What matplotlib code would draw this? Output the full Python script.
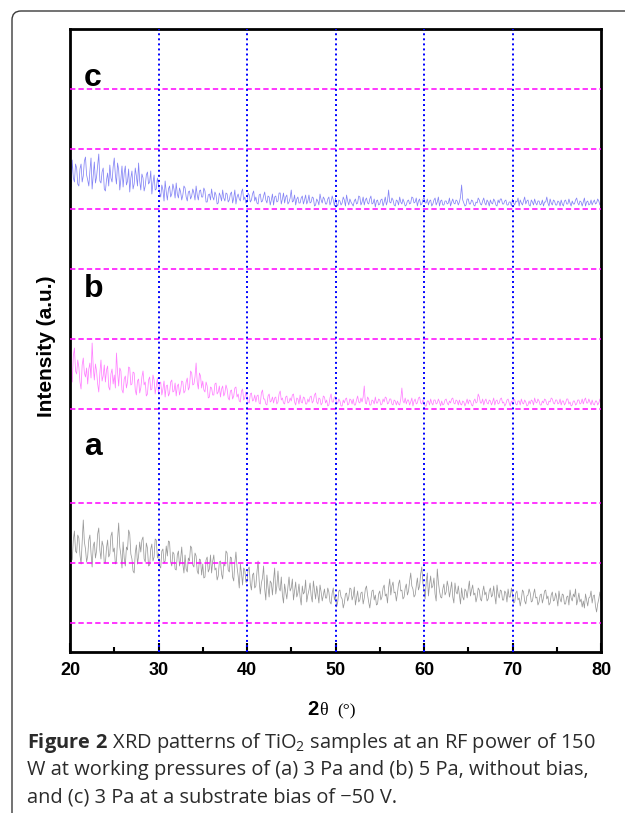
import numpy as np
import matplotlib
matplotlib.use("Agg")
import matplotlib.pyplot as plt
from matplotlib.patches import FancyBboxPatch
from matplotlib.transforms import IdentityTransform

plt.rcParams['mathtext.fontset'] = 'custom'
plt.rcParams['mathtext.rm'] = 'Open Sans'
plt.rcParams['mathtext.bf'] = 'Open Sans:bold'

# datos (intensidad en unidades arbitrarias, paso 0.125 grados)
two_theta_range = (20, 80)
x_ticks = [20, 30, 40, 50, 60, 70, 80]
grid_x = [30, 40, 50, 60, 70]
base_lines = [29, 89, 149, 243, 313, 383, 443, 503, 563]

int_c = [
    478, 465, 492, 474, 470, 488, 484, 468, 466, 483, 488, 470, 476, 491, 495, 477,
    472, 466, 481, 494, 463, 477, 490, 469, 475, 487, 498, 471, 469, 480, 484, 463,
    461, 472, 479, 466, 487, 474, 470, 485, 494, 477, 468, 489, 482, 462, 473, 486,
    465, 479, 486, 467, 471, 483, 460, 474, 481, 463, 468, 484, 476, 466, 489, 471,
    462, 478, 474, 461, 466, 477, 480, 468, 470, 481, 458, 469, 477, 462, 463, 474,
    468, 459, 455, 467, 462, 451, 471, 460, 452, 463, 466, 455, 458, 468, 463, 454,
    469, 458, 454, 464, 460, 452, 457, 466, 464, 455, 451, 460, 461, 453, 456, 463,
    459, 452, 466, 457, 452, 461, 462, 455, 455, 464, 461, 450, 450, 457, 458, 452,
    463, 455, 452, 460, 457, 448, 449, 459, 456, 451, 462, 454, 451, 459, 458, 450,
    452, 458, 460, 449, 454, 462, 448, 455, 458, 453, 451, 460, 463, 452, 455, 449,
    450, 459, 457, 450, 452, 458, 461, 451, 455, 449, 448, 457, 458, 450, 451, 456,
    460, 452, 449, 456, 455, 447, 452, 458, 447, 455, 456, 450, 451, 459, 459, 448,
    453, 459, 449, 455, 457, 448, 450, 454, 462, 450, 451, 457, 447, 453, 455, 449,
    449, 454, 456, 448, 452, 457, 448, 451, 457, 449, 450, 455, 454, 446, 447, 453,
    451, 447, 458, 452, 449, 455, 453, 448, 448, 453, 455, 447, 450, 456, 452, 446,
    454, 448, 446, 452, 451, 447, 449, 455, 452, 446, 457, 451, 447, 453, 450, 448,
    446, 451, 453, 448, 449, 456, 455, 447, 450, 455, 447, 452, 454, 449, 448, 453,
    456, 448, 449, 453, 445, 451, 452, 447, 448, 452, 453, 446, 450, 455, 447, 451,
    462, 450, 449, 454, 452, 447, 446, 452, 451, 447, 455, 450, 448, 453, 450, 446,
    447, 451, 452, 448, 449, 455, 454, 449, 450, 454, 446, 451, 453, 447, 448, 452,
    455, 449, 449, 453, 447, 451, 452, 446, 448, 452, 454, 447, 450, 455, 446, 451,
    452, 447, 447, 451, 451, 448, 449, 454, 446, 450, 453, 449, 448, 452, 451, 447,
    450, 455, 467, 452, 449, 446, 447, 453, 453, 448, 448, 452, 451, 447, 446, 450,
    449, 454, 452, 448, 447, 451, 454, 449, 447, 452, 450, 446, 452, 449, 448, 453,
    451, 447, 446, 452, 449, 453, 453, 448, 448, 451, 452, 447, 447, 450, 450, 446,
    453, 449, 447, 451, 450, 454, 446, 452, 449, 447, 451, 455, 448, 451, 452, 447,
    446, 452, 450, 447, 453, 449, 447, 451, 451, 447, 448, 452, 446, 450, 450, 455,
    449, 446, 453, 449, 447, 452, 451, 447, 447, 451, 450, 446, 452, 448, 446, 451,
    452, 448, 448, 453, 449, 446, 451, 448, 448, 452, 454, 449, 447, 451, 450, 446,
    450, 454, 446, 450, 451, 447, 448, 452, 447, 450, 452, 448, 449, 453, 451, 447,
    449]

int_b = [
    290, 276, 270, 296, 304, 281, 278, 292, 285, 270, 263, 287, 294, 279, 275, 284,
    268, 283, 289, 274, 309, 285, 272, 288, 281, 268, 260, 279, 292, 271, 276, 287,
    270, 282, 286, 265, 262, 278, 283, 268, 277, 264, 299, 280, 266, 284, 281, 262,
    259, 273, 276, 264, 270, 285, 284, 267, 268, 280, 279, 262, 257, 271, 273, 259,
    264, 275, 281, 267, 270, 256, 258, 272, 275, 262, 263, 277, 272, 258, 266, 274,
    258, 268, 270, 257, 263, 271, 255, 266, 267, 256, 259, 270, 272, 260, 261, 269,
    256, 266, 268, 257, 262, 271, 270, 259, 261, 270, 274, 262, 265, 281, 279, 267,
    268, 275, 289, 270, 263, 279, 276, 264, 271, 262, 260, 270, 266, 254, 255, 265,
    264, 257, 257, 268, 269, 258, 260, 266, 255, 263, 266, 256, 259, 267, 263, 254,
    252, 261, 262, 253, 256, 264, 265, 255, 258, 251, 250, 261, 263, 252, 254, 260,
    256, 250, 249, 258, 259, 251, 252, 257, 250, 256, 257, 249, 248, 259, 262, 253,
    253, 248, 247, 256, 258, 250, 251, 255, 249, 254, 255, 248, 250, 258, 261, 252,
    254, 249, 248, 255, 256, 249, 250, 254, 251, 257, 258, 250, 247, 254, 253, 248,
    257, 250, 249, 255, 254, 248, 248, 253, 250, 255, 256, 249, 251, 257, 259, 250,
    248, 254, 253, 247, 249, 256, 255, 249, 252, 246, 247, 254, 258, 250, 250, 255,
    255, 248, 249, 253, 251, 246, 246, 252, 249, 253, 254, 247, 248, 253, 252, 248,
    253, 247, 247, 252, 256, 250, 249, 254, 250, 255, 266, 249, 248, 255, 253, 247,
    247, 252, 251, 248, 255, 249, 249, 253, 252, 247, 248, 253, 250, 255, 254, 248,
    249, 253, 253, 248, 247, 252, 251, 247, 251, 248, 247, 253, 264, 251, 249, 254,
    248, 252, 252, 247, 250, 254, 246, 251, 253, 248, 249, 254, 255, 249, 248, 252,
    250, 246, 246, 251, 251, 247, 253, 249, 247, 252, 252, 248, 249, 253, 250, 246,
    251, 247, 248, 252, 253, 249, 247, 251, 249, 253, 254, 249, 248, 252, 251, 247,
    252, 248, 247, 251, 250, 246, 249, 253, 248, 252, 251, 247, 246, 251, 253, 249,
    250, 258, 255, 249, 249, 253, 247, 251, 253, 249, 248, 252, 251, 247, 250, 254,
    247, 251, 252, 248, 249, 253, 254, 249, 250, 246, 248, 252, 253, 249, 246, 251,
    249, 253, 252, 248, 247, 251, 251, 247, 253, 249, 248, 252, 250, 246, 247, 251,
    248, 252, 251, 247, 254, 250, 249, 253, 251, 247, 247, 251, 249, 253, 252, 248,
    247, 251, 250, 254, 253, 249, 248, 252, 252, 248, 249, 253, 247, 251, 251, 247,
    249, 253, 253, 248, 250, 246, 247, 251, 251, 247, 248, 252, 252, 248, 249, 253,
    248, 252, 254, 249, 249, 253, 250, 247, 252, 248, 247, 251, 251, 247, 249, 253,
    250]

int_a = [
    108, 95, 92, 112, 121, 101, 99, 117, 114, 97, 88, 109, 132, 110, 103, 90,
    96, 112, 117, 99, 85, 106, 110, 94, 101, 118, 124, 102, 93, 111, 106, 89,
    89, 104, 112, 95, 98, 116, 120, 100, 104, 88, 91, 113, 129, 105, 97, 84,
    110, 94, 86, 105, 102, 122, 118, 98, 93, 81, 79, 99, 107, 88, 96, 110,
    100, 112, 115, 93, 90, 109, 104, 86, 87, 103, 108, 91, 95, 113, 112, 94,
    99, 86, 84, 101, 103, 89, 91, 106, 96, 111, 110, 90, 86, 100, 98, 83,
    82, 97, 101, 86, 93, 105, 88, 79, 97, 83, 80, 94, 91, 106, 104, 87,
    85, 99, 96, 81, 78, 93, 92, 77, 88, 74, 75, 92, 95, 80, 83, 97,
    79, 91, 97, 82, 84, 72, 76, 90, 91, 78, 73, 88, 86, 101, 99, 82,
    80, 95, 94, 75, 71, 89, 100, 85, 76, 64, 88, 79, 67, 84, 82, 70,
    70, 83, 85, 68, 62, 77, 79, 64, 66, 80, 91, 71, 58, 69, 74, 86,
    63, 52, 77, 65, 55, 71, 69, 57, 72, 84, 58, 66, 81, 64, 61, 75,
    57, 49, 68, 60, 53, 65, 75, 61, 64, 73, 52, 61, 70, 55, 59, 68,
    55, 47, 66, 58, 60, 72, 50, 57, 62, 69, 56, 50, 71, 62, 53, 66,
    58, 49, 67, 60, 51, 57, 63, 54, 54, 64, 60, 50, 48, 59, 64, 52,
    57, 45, 50, 61, 62, 55, 53, 44, 49, 58, 59, 51, 55, 64, 63, 52,
    56, 65, 47, 54, 61, 50, 52, 59, 60, 48, 54, 63, 66, 57, 50, 44,
    53, 61, 62, 52, 57, 47, 48, 58, 61, 52, 55, 64, 67, 56, 58, 49,
    64, 73, 57, 66, 70, 59, 60, 51, 59, 68, 72, 61, 62, 53, 55, 64,
    68, 57, 61, 71, 79, 66, 63, 55, 57, 66, 74, 62, 66, 78, 85, 69,
    62, 53, 70, 79, 56, 67, 76, 64, 66, 74, 58, 51, 83, 70, 61, 55,
    54, 63, 68, 57, 60, 71, 65, 55, 62, 70, 55, 49, 69, 60, 58, 66,
    57, 48, 64, 55, 52, 63, 61, 54, 63, 71, 56, 62, 67, 57, 59, 50,
    55, 64, 62, 53, 51, 60, 66, 57, 60, 51, 53, 61, 64, 55, 57, 66,
    56, 48, 67, 58, 54, 62, 61, 52, 52, 61, 59, 50, 63, 55, 55, 64,
    58, 49, 50, 59, 61, 52, 54, 46, 53, 62, 60, 51, 48, 56, 57, 63,
    59, 50, 51, 58, 63, 54, 55, 47, 50, 57, 58, 49, 54, 61, 62, 53,
    56, 47, 49, 57, 60, 51, 52, 59, 54, 46, 61, 53, 50, 58, 57, 48,
    48, 55, 56, 47, 62, 54, 51, 58, 55, 63, 47, 52, 59, 50, 53, 45,
    51, 44, 58, 52, 46, 54, 55, 61, 49, 56, 57, 46, 40, 48, 53, 60,
    51]

series = [(int_a, '#999999'), (int_b, '#ff80ff'), (int_c, '#8484f5')]
labels = [('a', 197), ('b', 355), ('c', 566)]

fig = plt.figure(figsize=(6.25, 8.13), dpi=100)

# marco redondeado (en pixeles)
marco = FancyBboxPatch((12, -60), 900, 813 - 11 + 60, boxstyle="round,pad=0,rounding_size=9",
                       transform=IdentityTransform(), fill=False, edgecolor='#3a3a3a', lw=1.0)
fig.add_artist(marco)

ax = fig.add_axes([70 / 625, (813 - 652) / 813, 531 / 625, 623 / 813])

for vals, col in series:
    xs = np.linspace(two_theta_range[0], two_theta_range[1], len(vals))
    ax.plot(xs, vals, color=col, lw=0.55, zorder=2)

for y in base_lines:
    ax.axhline(y, color='#ff00ff', ls=(0, (3.5, 2)), lw=1.1, zorder=3)
for x in grid_x:
    ax.axvline(x, color='#0000ff', ls=(0, (1, 1.6)), lw=1.4, zorder=3)

for txt, yb in labels:
    ax.text(21.55, yb, txt, fontsize=23, fontweight='bold', family='Liberation Sans',
            va='baseline', ha='left')

ax.set_xlim(*two_theta_range)
ax.set_ylim(0, 623)
ax.set_xticks(x_ticks)
ax.set_xticks(np.arange(25, 80, 10), minor=True)
ax.set_yticks([])
ax.tick_params(axis='x', which='major', direction='in', length=6.5, width=1.5, pad=7.5,
               labelsize=13)
ax.tick_params(axis='x', which='minor', direction='in', length=3.6, width=1.5)
for lab in ax.get_xticklabels():
    lab.set_fontweight('bold')
    lab.set_family('Liberation Sans')
for sp in ax.spines.values():
    sp.set_linewidth(2)

# etiquetas de ejes
fig.text(47 / 625, (813 - 346) / 813, 'Intensity (a.u.)', rotation=90, ha='center', va='center',
         fontsize=15, fontweight='bold', family='Liberation Sans')
fig.text(307 / 625, (813 - 715) / 813, '2', fontsize=14.5, fontweight='bold',
         family='Liberation Sans', ha='left', va='baseline')
fig.text(319 / 625, (813 - 715) / 813, 'θ', fontsize=13, family='Liberation Serif',
         ha='left', va='baseline')
fig.text(337 / 625, (813 - 715) / 813, '(°)', fontsize=12.5, family='Liberation Serif',
         ha='left', va='baseline')

# pie de figura
caption = [r'$\mathbf{Figure\ 2}$ XRD patterns of TiO$_\mathrm{2}$ samples at an RF power of 150',
           'W at working pressures of (a) 3 Pa and (b) 5 Pa, without bias,',
           'and (c) 3 Pa at a substrate bias of \u221250 V.']
for i, line in enumerate(caption):
    fig.text(27 / 625, (813 - 748 - 27 * i) / 813, line, fontsize=14.45, family='Open Sans',
             color='#2b2b2b', ha='left', va='baseline')

fig.savefig('out.png', dpi=100)
